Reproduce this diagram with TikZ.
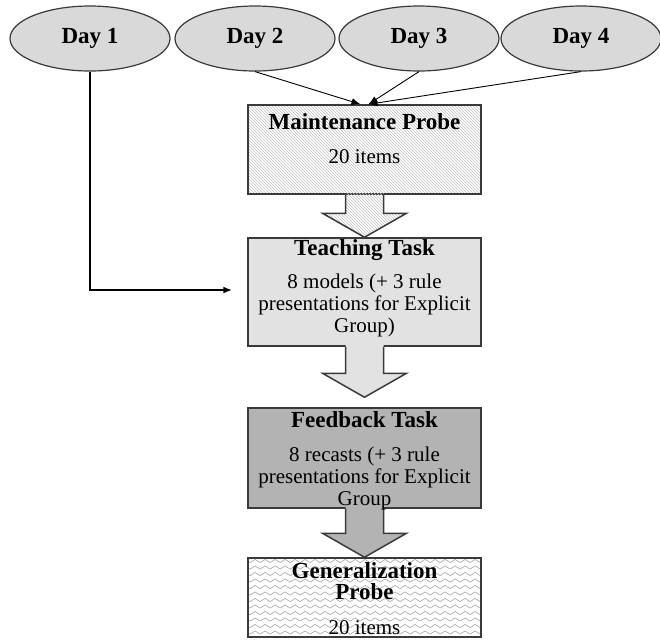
\documentclass[tikz,border=0pt]{standalone}
\usepackage{fontspec}
\setmainfont{Liberation Serif}
\usetikzlibrary{arrows.meta,positioning,calc,patterns,shapes.geometric,decorations.pathmorphing}
\definecolor{edge}{HTML}{3A3A3A}
\definecolor{dayfill}{HTML}{D9D9D9}
\definecolor{teachfill}{HTML}{E2E2E2}
\definecolor{feedfill}{HTML}{B3B3B3}
\definecolor{hatch}{HTML}{BEBEBE}
\definecolor{wavecol}{HTML}{A6A6A6}
\newcommand\hd[1]{{\bfseries\fontsize{23}{22}\selectfont #1}}
% block arrow: source node, tip coordinate, fill options
\newcommand\blockarrow[3]{%
  \path[#3] ($(#1.south)+(-19,-2)$) -- ($(#2)+(-19,-24)$) -- ($(#2)+(-42,-24)$) -- (#2)
    -- ($(#2)+(42,-24)$) -- ($(#2)+(19,-24)$) -- ($(#1.south)+(19,-2)$) -- cycle;
  \draw[blkline] ($(#1.south)+(-19,0)$) -- ($(#2)+(-19,-24)$) -- ($(#2)+(-42,-24)$) -- (#2)
    -- ($(#2)+(42,-24)$) -- ($(#2)+(19,-24)$) -- ($(#1.south)+(19,0)$);}
\tikzset{
  >={Latex[length=9pt,width=7pt]},
  day/.style={ellipse,draw=edge,line width=1.2pt,fill=dayfill,minimum width=160pt,minimum height=65pt,inner sep=0pt,font=\bfseries\fontsize{23}{22}\selectfont},
  stage/.style={draw=edge,line width=1.5pt,minimum width=233pt,inner sep=0pt},
  hatched/.style={pattern=north west lines,pattern color=hatch},
  wave/.style={draw=wavecol,line width=0.6pt,decorate,decoration={snake,segment length=10pt,amplitude=1.6pt}},
  waved/.style={fill=white,path picture={
      \foreach \k in {0,...,13}
        \draw[wave] ([xshift=-6pt,yshift=-\k*6.5pt-3pt]path picture bounding box.north west)
          -- ([xshift=6pt,yshift=-\k*6.5pt-3pt]path picture bounding box.north east);}},
  txt/.style={align=center,font=\fontsize{21}{22}\selectfont},
  blkline/.style={draw=edge,line width=1.5pt,line join=miter},
  thinarr/.style={->,draw=black,line width=0.9pt},
  thickarr/.style={->,draw=black,line width=2pt},
}
\begin{document}
\begin{tikzpicture}[x=1pt,y=-1pt]
\useasboundingbox (0,0) rectangle (660,641);
% days
\node[day] (d1) at (90,38.5) {Day 1};
\node[day] (d2) at (255,38.5) {Day 2};
\node[day] (d3) at (419,38.5) {Day 3};
\node[day] (d4) at (581,38.5) {Day 4};
% stages
\node[stage,hatched,minimum height=89pt] (mp) at (364.5,149.5) {};
\node[stage,fill=teachfill,minimum height=108pt] (tt) at (364.5,292) {};
\node[stage,fill=feedfill,minimum height=100pt] (fb) at (364.5,458) {};
\node[stage,waved,minimum height=79pt] (gp) at (364.5,597.5) {};
\coordinate (fbtip) at ($(fb.north)+(0,-10)$);
\blockarrow{mp}{tt.north}{hatched}
\blockarrow{tt}{fbtip}{fill=teachfill}
\blockarrow{fb}{gp.north}{fill=feedfill}
% texts
\node[txt] (mptxt) at ($(mp.north)+(0,34)$) {\hd{Maintenance Probe}\\[12pt]20 items};
\node[txt] (tttxt) at ($(tt.north)+(0,50.5)$) {\hd{Teaching Task}\\[11pt]8 models (+ 3 rule\\presentations for Explicit\\Group)};
\node[txt] (fbtxt) at ($(fb.north)+(0,53.5)$) {\hd{Feedback Task}\\[12pt]8 recasts (+ 3 rule\\presentations for Explicit\\Group};
\node[txt] (gptxt) at ($(gp.north)+(0,41.5)$) {\hd{Generalization}\\[-1pt]\hd{Probe}\\[13pt]20 items};
% connectors
\draw[thinarr] (d2.south) -- ($(mp.north)+(-4,0)$);
\draw[thinarr] (d3.south) -- ($(mp.north)+(4,0)$);
\draw[thinarr] (d4.south) -- ($(mp.north)+(4,0)$);
\draw[thickarr] (d1.south) |- ($(tt.west)+(-15,-2)$);
\end{tikzpicture}
\end{document}
